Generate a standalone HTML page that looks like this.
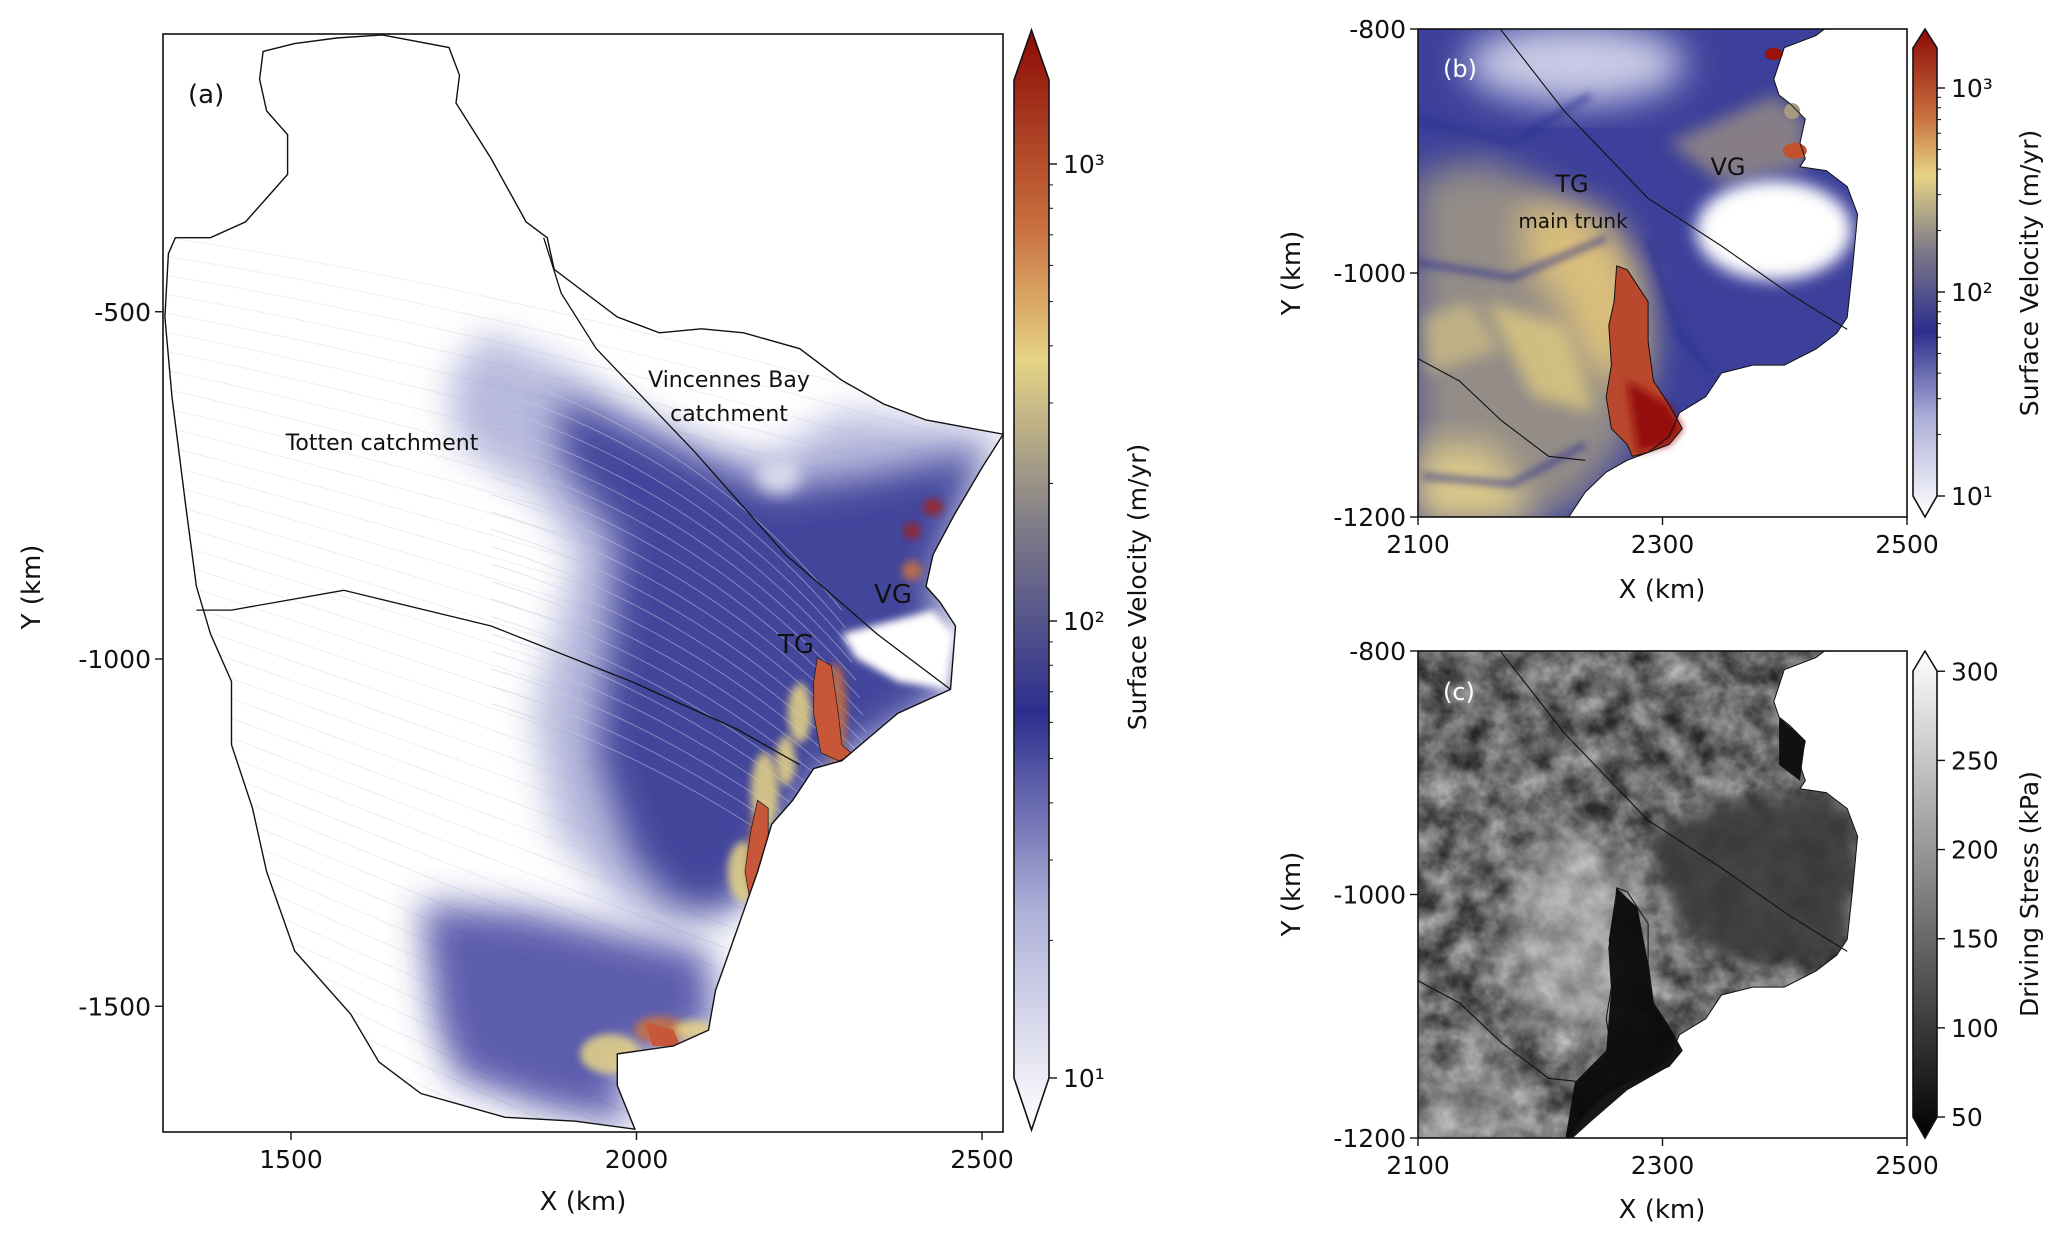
<!DOCTYPE html>
<html><head><meta charset="utf-8"><style>
html,body{margin:0;padding:0;background:#fff;width:2067px;height:1236px;overflow:hidden;}
svg{display:block;font-family:"DejaVu Sans","Liberation Sans",sans-serif;overflow:hidden;}
</style></head><body>
<svg id="fig" width="2067" height="1236" viewBox="0 0 2067 1236" xmlns="http://www.w3.org/2000/svg">
<defs>
  <filter id="blur18" x="-30%" y="-30%" width="160%" height="160%"><feGaussianBlur stdDeviation="18"/></filter>
  <filter id="blur8" x="-30%" y="-30%" width="160%" height="160%"><feGaussianBlur stdDeviation="8"/></filter>
  <filter id="blur4" x="-30%" y="-30%" width="160%" height="160%"><feGaussianBlur stdDeviation="4"/></filter>
  <filter id="noise" x="0" y="0" width="100%" height="100%" color-interpolation-filters="sRGB">
    <feTurbulence type="fractalNoise" baseFrequency="0.035" numOctaves="4" seed="7"/>
    <feColorMatrix type="matrix" values="1.4 0 0 0 -0.28  1.4 0 0 0 -0.28  1.4 0 0 0 -0.28  0 0 0 0 1"/>
  </filter>
  <linearGradient id="velGrad" x1="0" y1="1" x2="0" y2="0">
    <stop offset="0" stop-color="#ffffff"/>
    <stop offset="0.2" stop-color="#aeb0d8"/>
    <stop offset="0.38" stop-color="#2c2e8e"/>
    <stop offset="0.55" stop-color="#807c88"/>
    <stop offset="0.7" stop-color="#e6d485"/>
    <stop offset="0.82" stop-color="#c9703f"/>
    <stop offset="1" stop-color="#8b0a05"/>
  </linearGradient>
  <linearGradient id="grayGrad" x1="0" y1="1" x2="0" y2="0">
    <stop offset="0" stop-color="#000"/>
    <stop offset="1" stop-color="#fff"/>
  </linearGradient>
  <clipPath id="clipA"><rect x="163" y="34" width="840" height="1098"/></clipPath>
  <clipPath id="clipB"><rect x="1418" y="29" width="489" height="488"/></clipPath>
  <clipPath id="clipC"><rect x="1418" y="651" width="489" height="487"/></clipPath>
  <clipPath id="clipOutline"><path id="outlineClipPath" d=""/></clipPath>
</defs>
<g id="panelA"></g>
<g id="panelB"></g>
<g id="panelC"></g>
<g id="axes"></g>
</svg>
<script>
// ---- tick data ----
const xTicksA = [1500, 2000, 2500];
const yTicksA = [-500, -1000, -1500];
const xTicksBC = [2100, 2300, 2500];
const yTicksBC = [-800, -1000, -1200];
const velTicks = [10, 100, 1000];
const velTickLabels = ["10\u00b9", "10\u00b2", "10\u00b3"];
const stressTicks = [50, 100, 150, 200, 250, 300];

const NS = "http://www.w3.org/2000/svg";
function mk(tag, attrs, parent){const e=document.createElementNS(NS,tag);for(const k in attrs)e.setAttribute(k,attrs[k]);if(parent)parent.appendChild(e);return e;}

const xA = v => 291 + (v-1500)*0.691;
const yA = v => 659 - (v+1000)*0.6945;
const xB = v => 1418 + (v-2100)*(489/400);
const yB = v => 29 + (-800-v)*(488/400);
const yC = v => 651 + (-800-v)*(487/400);
const yVelA = v => 1078 - (Math.log10(v)-1)*457;
const yVelB = v => 496 - (Math.log10(v)-1)*204;
const yStr = v => 1117 - (v-50)*1.783;

const ta = p => [p[0]/1.4255, p[1]/1.262];
const tb = p => [1250+p[0]/1.909, p[1]/1.26];
function pathD(pts, t, close){return pts.map((p,i)=>{const q=t(p);return (i?"L":"M")+q[0].toFixed(1)+","+q[1].toFixed(1);}).join("")+(close?"Z":"");}
function txt(parent,x,y,s,size,name,opts){const t=mk("text",Object.assign({x:x,y:y,"font-size":size,fill:"#111"},opts||{}),parent);t.textContent=s;return t;}

// ---------- PANEL A ----------
const A = document.getElementById("panelA");
const outline = [[545,44],[640,60],[655,95],[650,130],[700,200],[750,280],[780,300],[790,340],[880,400],[940,420],[1000,415],[1060,420],[1140,440],[1200,480],[1260,510],[1320,530],[1430,548],[1400,590],[1360,650],[1330,700],[1320,740],[1340,760],[1362,790],[1355,870],[1280,900],[1240,930],[1200,960],[1160,970],[1130,1010],[1100,1040],[1080,1100],[1060,1150],[1040,1200],[1020,1250],[1010,1300],[960,1320],[880,1330],[880,1370],[905,1425],[820,1415],[720,1410],[600,1380],[540,1340],[500,1280],[420,1200],[380,1100],[360,1020],[330,940],[330,860],[300,800],[280,740],[265,640],[245,500],[235,400],[240,320],[250,300],[300,300],[350,280],[380,250],[410,220],[410,170],[380,140],[370,100],[375,65],[420,55],[480,48]];
const outD = pathD(outline, ta, true);
document.getElementById("outlineClipPath").setAttribute("d", outD);
const gA = mk("g",{"clip-path":"url(#clipOutline)"},A);


for(let i=0;i<46;i++){
  const y0 = 300 + i*24, x0 = 240;
  const d = "M"+(x0/1.4255)+","+(y0/1.262)+" Q"+(700/1.4255)+","+((y0+60+i*4)/1.262)+" "+(1350/1.4255)+","+((y0+220+i*6)/1.262);
  const l = mk("path",{d:d,fill:"none",stroke:"#eeeeee","stroke-width":1},gA);
  
  
}
const blueN = [[690,420],[800,460],[900,520],[1000,560],[1100,575],[1200,520],[1300,530],[1430,550],[1360,650],[1330,740],[1355,870],[1240,930],[1140,980],[1080,1100],[1040,1150],[960,1170],[880,1140],[790,1050],[760,900],[790,800],[820,700],[760,620],[650,560],[640,480]];
const blueS = [[600,1140],[750,1150],[900,1180],[1010,1200],[1020,1300],[960,1320],[880,1340],[900,1420],[780,1400],[650,1360],[620,1290]];
mk("path",{d:pathD(blueN,ta,true),fill:"#9a9ccf",opacity:0.7,filter:"url(#blur18)"},gA);
const blueCore = [[800,500],[950,560],[1100,620],[1250,600],[1400,570],[1330,740],[1355,870],[1200,960],[1100,1060],[1040,1150],[960,1140],[900,1080],[850,950],[870,800],[880,680],[800,580]];
const bn2 = mk("path",{d:pathD(blueCore,ta,true),fill:"#2e3090",opacity:0.85,filter:"url(#blur18)"},gA);


mk("path",{d:pathD(blueS,ta,true),fill:"#34369a",opacity:0.8,filter:"url(#blur18)"},gA);
for(let i=0;i<20;i++){
  const y0=470+i*22;
  const d="M"+(700/1.4255)+","+(y0/1.262)+" Q"+(1000/1.4255)+","+((y0+80)/1.262)+" "+((1200+i*5)/1.4255)+","+((y0+300)/1.262);
  mk("path",{d:d,fill:"none",stroke:"#c8c9e4","stroke-width":1,opacity:0.5},gA);
}
mk("ellipse",{cx:1110/1.4255,cy:600/1.262,rx:22,ry:18,fill:"#d8d8ec",filter:"url(#blur8)"},gA);
mk("path",{d:pathD([[1200,800],[1330,770],[1360,800],[1350,870],[1280,860],[1220,830]],ta,true),fill:"#fff",filter:"url(#blur4)"},gA);
const hot = [[1090,1000,14,40,"#e6d485"],[1060,1100,16,30,"#e6d485"],[1140,900,12,30,"#e6d485"],[1120,960,10,25,"#e6d485"],[1190,900,12,50,"#c9703f"],[1080,1090,10,50,"#c9703f"],[870,1330,30,20,"#e6d485"],[940,1300,25,14,"#c9703f"],[1300,720,10,10,"#c9703f"],[1330,640,10,8,"#a3241a"],[1300,670,8,8,"#a3241a"],[990,1300,20,10,"#e6d485"]];
hot.forEach(h=>{const q=ta([h[0],h[1]]);const e=mk("ellipse",{cx:q[0],cy:q[1],rx:h[2],ry:h[3],fill:h[4],opacity:0.85,filter:"url(#blur4)"},gA);
  
  });
mk("path",{d:pathD([[1165,830],[1185,840],[1195,900],[1200,940],[1220,955],[1195,960],[1170,950],[1160,900],[1160,860]],ta,true),fill:"#c8573a",stroke:"#222","stroke-width":0.8},gA);
mk("path",{d:pathD([[1080,1010],[1095,1020],[1095,1100],[1090,1155],[1072,1150],[1062,1100],[1070,1050]],ta,true),fill:"#c8573a",stroke:"#222","stroke-width":0.8},gA);
mk("path",{d:pathD([[920,1290],[960,1300],[970,1320],[930,1320]],ta,true),fill:"#c8573a"},gA);
const div1=[[775,300],[800,370],[850,440],[990,570],[1120,700],[1250,800],[1355,870]];
const div2=[[280,770],[330,770],[490,745],[700,790],[900,860],[1050,920],[1140,965]];
[div1,div2].forEach((d,i)=>{const p=mk("path",{d:pathD(d,ta,false),fill:"none",stroke:"#111","stroke-width":1.3},A);
  
  });
const olp = mk("path",{d:outD,fill:"none",stroke:"#111","stroke-width":1.4},A);


txt(A,188,103,"(a)",26,"panel-a-label");
txt(A,382,450,"Totten catchment",22,"totten-label",{"text-anchor":"middle"});
txt(A,729,387,"Vincennes Bay",22,"vincennes-label-line1",{"text-anchor":"middle"});
txt(A,729,421,"catchment",22,"vincennes-label-line2",{"text-anchor":"middle"});
txt(A,796,653,"TG",26,"tg-label-a",{"text-anchor":"middle"});
txt(A,893,603,"VG",26,"vg-label-a",{"text-anchor":"middle"});

// ---------- PANEL B ----------
const B = document.getElementById("panelB");
const gB = mk("g",{"clip-path":"url(#clipB)"},B);


mk("rect",{x:1418,y:29,width:489,height:488,fill:"#3c409a"},gB);
mk("ellipse",{cx:1250+620/1.909,cy:80/1.26,rx:110,ry:40,fill:"#c9cbe6",filter:"url(#blur18)"},gB);
const band1=[[315,220],[450,200],[600,250],[720,320],[770,440],[720,560],[620,640],[315,660]];
mk("path",{d:pathD(band1,tb,true),fill:"#9d9585",opacity:0.9,filter:"url(#blur18)"},gB);
mk("path",{d:pathD([[520,250],[680,270],[750,360],[740,480],[640,470],[590,380],[520,330]],tb,true),fill:"#e2c47a",opacity:0.9,filter:"url(#blur18)"},gB);
mk("path",{d:pathD([[320,560],[460,560],[560,660],[320,660]],tb,true),fill:"#e4d08a",opacity:0.9,filter:"url(#blur18)"},gB);
mk("path",{d:pathD([[450,380],[600,410],[660,520],[540,500]],tb,true),fill:"#e0cb80",opacity:0.8,filter:"url(#blur8)"},gB);
mk("path",{d:pathD([[330,400],[420,380],[480,440],[340,470]],tb,true),fill:"#cbbb85",opacity:0.8,filter:"url(#blur8)"},gB);
mk("path",{d:pathD([[800,180],[1000,120],[1060,150],[1060,210],[900,230]],tb,true),fill:"#b8a77c",opacity:0.6,filter:"url(#blur8)"},gB);
const chans=[[[315,330],[500,350],[680,300]],[[315,150],[500,180],[650,120]],[[330,600],[500,610],[640,560]],[[760,300],[820,420],[880,470]]];
chans.forEach(c=>{const p=mk("path",{d:pathD(c,tb,false),fill:"none",stroke:"#2c2f8e","stroke-width":6,opacity:0.7,filter:"url(#blur4)"},gB);
  
  });
const coast=[[1110,30],[1080,45],[1020,60],[1010,80],[1000,100],[1010,120],[1030,130],[1060,150],[1050,180],[1060,200],[1050,210],[1100,215],[1140,235],[1160,270],[1150,340],[1140,400],[1120,420],[1080,440],[1020,460],[960,460],[900,470],[870,500],[820,520],[800,550],[760,570],[720,580],[680,595],[640,620],[600,660]];
const ocean = coast.concat([[1260,660],[1260,30]]);
mk("path",{d:pathD(ocean,tb,true),fill:"#fff"},gB);
mk("ellipse",{cx:1250+1000/1.909,cy:290/1.26,rx:78,ry:50,fill:"#fff",filter:"url(#blur8)"},gB);
const trunk=[[700,335],[720,340],[740,360],[760,380],[760,430],[770,480],[800,510],[825,540],[800,560],[760,570],[730,575],[720,560],[690,540],[680,500],[690,460],[685,410],[695,380]];
mk("path",{d:pathD(trunk,tb,true),fill:"#b9482c"},gB);
mk("path",{d:pathD([[720,480],[800,510],[825,540],[800,560],[740,570]],tb,true),fill:"#960f08",filter:"url(#blur4)"},gB);
mk("path",{d:pathD(trunk,tb,true),fill:"none",stroke:"#111","stroke-width":1},gB);
mk("ellipse",{cx:1250+1000/1.909,cy:68/1.26,rx:9,ry:6,fill:"#9a1208"},gB);
mk("ellipse",{cx:1250+1040/1.909,cy:190/1.26,rx:12,ry:8,fill:"#c0532e"},gB);
mk("ellipse",{cx:1250+1035/1.909,cy:140/1.26,rx:8,ry:8,fill:"#a89a80"},gB);
const coastB = mk("path",{d:pathD(coast,tb,false),fill:"none",stroke:"#111","stroke-width":1},gB);


const divB1=[[470,30],[600,140],[760,250],[900,310],[1030,370],[1140,415]];
const divB2=[[315,450],[400,480],[480,530],[570,575],[640,580]];
[divB1,divB2].forEach(d=>{const p=mk("path",{d:pathD(d,tb,false),fill:"none",stroke:"#111","stroke-width":1.1},gB);
  
  });
txt(B,1443,77,"(b)",24,"panel-b-label",{fill:"#fff"});
txt(B,1572,192,"TG",24,"tg-label-b",{"text-anchor":"middle"});
txt(B,1573,228,"main trunk",20,"main-trunk-label",{"text-anchor":"middle"});
txt(B,1728,175,"VG",24,"vg-label-b",{"text-anchor":"middle"});

// ---------- PANEL C ----------
const C = document.getElementById("panelC");
const gC = mk("g",{"clip-path":"url(#clipC)"},C);


mk("rect",{x:1418,y:651,width:489,height:487,fill:"#666"},gC);
mk("rect",{x:1418,y:651,width:489,height:487,filter:"url(#noise)",opacity:0.6},gC);
const gCs = mk("g",{transform:"translate(0,622)"},gC);
mk("path",{d:pathD([[560,250],[720,300],[760,420],[700,520],[560,520],[480,420]],tb,true),fill:"#dcdcdc",opacity:0.5,filter:"url(#blur18)"},gCs);
mk("path",{d:pathD([[315,560],[480,560],[560,660],[315,660]],tb,true),fill:"#d0d0d0",opacity:0.4,filter:"url(#blur18)"},gCs);
mk("path",{d:pathD([[760,270],[900,230],[1100,215],[1140,235],[1160,270],[1150,340],[1140,400],[1100,430],[1000,430],[900,420],[820,380]],tb,true),fill:"#3a3a3a",opacity:0.9,filter:"url(#blur8)"},gCs);
mk("path",{d:pathD(ocean,tb,true),fill:"#fff"},gCs);
mk("path",{d:pathD([[700,335],[740,360],[760,430],[770,480],[800,510],[825,540],[800,560],[720,590],[650,630],[600,660],[620,580],[680,540],[690,460],[685,400]],tb,true),fill:"#0a0a0a",opacity:0.95},gCs);
mk("path",{d:pathD([[1010,120],[1060,150],[1050,200],[1010,180]],tb,true),fill:"#111"},gCs);
mk("path",{d:pathD(coast,tb,false),fill:"none",stroke:"#111","stroke-width":1},gCs);
mk("path",{d:pathD(trunk,tb,true),fill:"none",stroke:"#111","stroke-width":1},gCs);
[divB1,divB2].forEach(d=>{const p=mk("path",{d:pathD(d,tb,false),fill:"none",stroke:"#111","stroke-width":1.1},gCs);
  
  });
txt(C,1443,700,"(c)",24,"panel-c-label",{fill:"#fff"});

// ---------- AXES ----------
const AX = document.getElementById("axes");
function frame(x,y,w,h,name){const r=mk("rect",{x:x,y:y,width:w,height:h,fill:"none",stroke:"#111","stroke-width":1.6},AX);}
frame(163,34,840,1098,"axes-frame-a");
frame(1418,29,489,488,"axes-frame-b");
frame(1418,651,489,487,"axes-frame-c");
const FS=25;
function xTicks(ticks,fx,yb,name){ticks.forEach(v=>{const x=fx(v);mk("line",{x1:x,y1:yb,x2:x,y2:yb+8,stroke:"#111","stroke-width":1.4},AX);txt(AX,x,yb+36,String(v),FS,name,{"text-anchor":"middle"});});}
function yTicks(ticks,fy,xl,name){ticks.forEach(v=>{const y=fy(v);mk("line",{x1:xl,y1:y,x2:xl-8,y2:y,stroke:"#111","stroke-width":1.4},AX);txt(AX,xl-12,y+9,String(v),FS,name,{"text-anchor":"end"});});}
xTicks(xTicksA,xA,1132,"x-tick-label-a");
yTicks(yTicksA,yA,163,"y-tick-label-a");
xTicks(xTicksBC,xB,517,"x-tick-label-b");
yTicks(yTicksBC,yB,1418,"y-tick-label-b");
xTicks(xTicksBC,xB,1138,"x-tick-label-c");
yTicks(yTicksBC,yC,1418,"y-tick-label-c");
txt(AX,583,1210,"X (km)",26,"x-axis-title-a",{"text-anchor":"middle"});
txt(AX,40,587,"Y (km)",26,"y-axis-title-a",{"text-anchor":"middle",transform:"rotate(-90 40 587)"});
txt(AX,1662,598,"X (km)",26,"x-axis-title-b",{"text-anchor":"middle"});
txt(AX,1300,273,"Y (km)",26,"y-axis-title-b",{"text-anchor":"middle",transform:"rotate(-90 1300 273)"});
txt(AX,1662,1218,"X (km)",26,"x-axis-title-c",{"text-anchor":"middle"});
txt(AX,1300,894,"Y (km)",26,"y-axis-title-c",{"text-anchor":"middle",transform:"rotate(-90 1300 894)"});

function cbar(x,w,tipT,baseT,baseB,tipB,fill,tickFn,ticks,labels,minor,title,tx,ty,name){
  const g=mk("g",{},AX);
  const d="M"+x+","+baseT+"L"+(x+w/2)+","+tipT+"L"+(x+w)+","+baseT+"L"+(x+w)+","+baseB+"L"+(x+w/2)+","+tipB+"L"+x+","+baseB+"Z";
  mk("path",{d:d,fill:fill,stroke:"#111","stroke-width":1.6},g);
  ticks.forEach((v,i)=>{const y=tickFn(v);mk("line",{x1:x+w,y1:y,x2:x+w+8,y2:y,stroke:"#111","stroke-width":1.4},g);txt(g,x+w+14,y+9,labels[i],FS,name+"-tick");});
  (minor||[]).forEach(v=>{const y=tickFn(v);mk("line",{x1:x+w,y1:y,x2:x+w+4,y2:y,stroke:"#111","stroke-width":1},g);});
  txt(g,tx,ty,title,25,name+"-title",{"text-anchor":"middle",transform:"rotate(-90 "+tx+" "+ty+")"});
}
const minorV=[20,30,40,50,60,70,80,90,200,300,400,500,600,700,800,900];
cbar(1014,35,30,80,1078,1130,"url(#velGrad)",yVelA,velTicks,velTickLabels,minorV,"Surface Velocity (m/yr)",1146,587,"colorbar-a");
cbar(1913,24,29,48,496,517,"url(#velGrad)",yVelB,velTicks,velTickLabels,minorV,"Surface Velocity (m/yr)",2038,273,"colorbar-b");
cbar(1913,24,651,671,1117,1138,"url(#grayGrad)",yStr,stressTicks,stressTicks.map(String),[], "Driving Stress (kPa)",2038,894,"colorbar-c");
</script>
</body></html>
